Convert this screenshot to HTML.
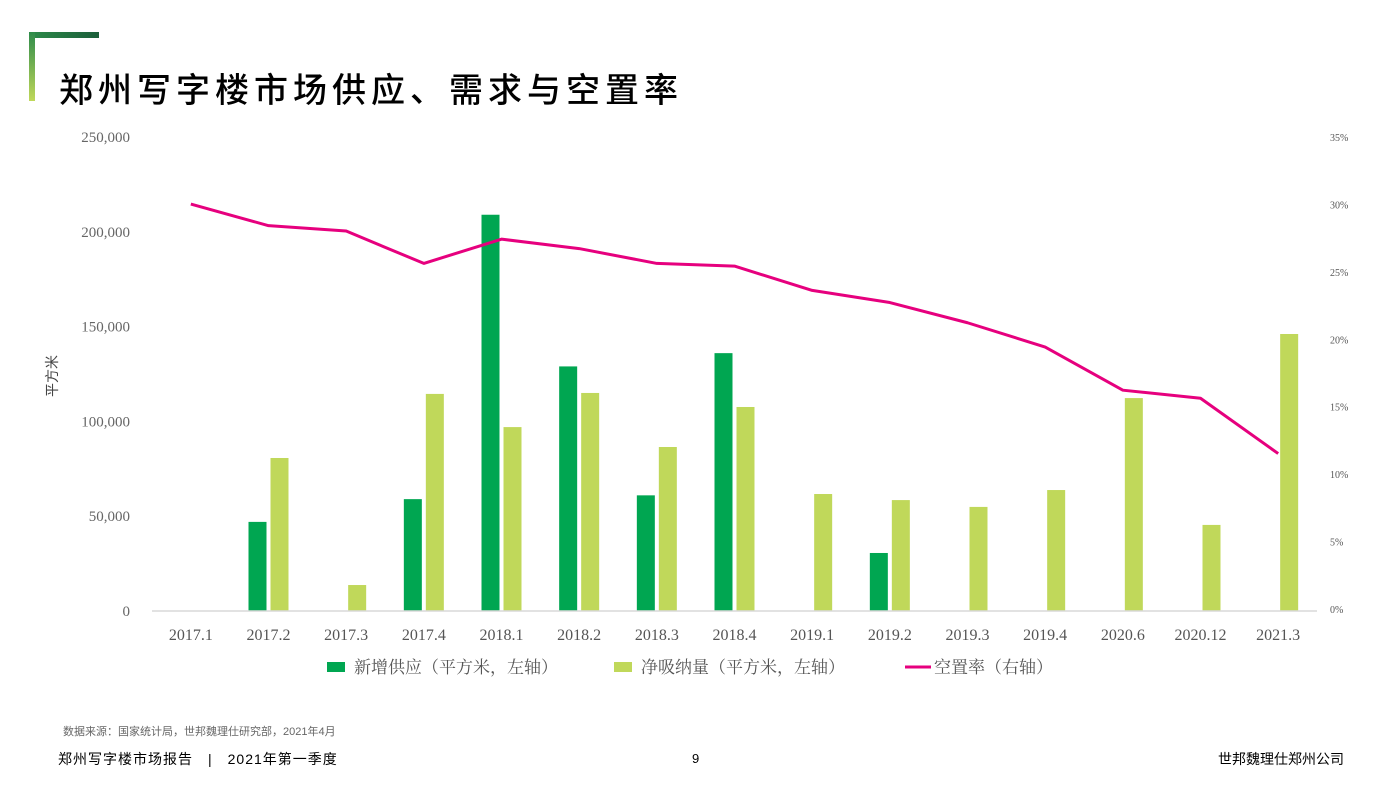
<!DOCTYPE html>
<html><head><meta charset="utf-8">
<style>
body{margin:0;width:1397px;height:791px;background:#fff;position:relative;overflow:hidden;font-family:"Liberation Sans","Noto Sans CJK SC",sans-serif;}
.abs{position:absolute;}
</style></head>
<body>
<div class="abs" style="left:29px;top:32px;width:70px;height:6px;background:linear-gradient(90deg,#2e8b4a,#1b5e3a);"></div>
<div class="abs" style="left:29px;top:32px;width:6px;height:69px;background:linear-gradient(180deg,#2e8b4a,#c0d85a);"></div>
<div class="abs" style="left:59px;top:66px;font-size:34px;letter-spacing:5px;color:#000;font-family:'Noto Sans CJK SC',sans-serif;font-weight:500;line-height:44px;">郑州写字楼市场供应、需求与空置率</div>
<svg class="abs" style="left:0;top:0" width="1397" height="791" id="chart"></svg>
<div class="abs" style="left:63px;top:723px;font-size:11px;color:#666;">数据来源：国家统计局，世邦魏理仕研究部，2021年4月</div>
<div class="abs" style="left:58px;top:749px;font-size:14px;color:#000;letter-spacing:1px;">郑州写字楼市场报告　|　2021年第一季度</div>
<div class="abs" style="left:692px;top:751px;font-size:13px;color:#000;">9</div>
<div class="abs" style="left:1218px;top:749px;font-size:14px;color:#000;">世邦魏理仕郑州公司</div>
<script>
const categories=["2017.1","2017.2","2017.3","2017.4","2018.1","2018.2","2018.3","2018.4","2019.1","2019.2","2019.3","2019.4","2020.6","2020.12","2021.3"];
const supply=[0,47000,0,59000,209000,129000,61000,136000,0,30600,0,0,0,0,0];
const absorption=[0,80700,13700,114500,97000,115000,86500,107600,61700,58500,54900,63800,112300,45400,146100];
const vacancy=[30.1,28.5,28.1,25.7,27.5,26.8,25.7,25.5,23.7,22.8,21.3,19.5,16.3,15.7,11.6];
const leftTicks=[0,50000,100000,150000,200000,250000];
const leftTickLabels=["0","50,000","100,000","150,000","200,000","250,000"];
const rightTicks=[0,5,10,15,20,25,30,35];
const rightTickLabels=["0%","5%","10%","15%","20%","25%","30%","35%"];

const svg=document.getElementById('chart');
const NS='http://www.w3.org/2000/svg';
const X0=152,X1=1317,Y0=611,Y1=137;
const band=(X1-X0)/categories.length;
const xc=i=>X0+(i+0.5)*band;
const yL=v=>Y0-(v/250000)*(Y0-Y1);
const yR=v=>610-(v/35)*(610-138);
function mk(t,a){const e=document.createElementNS(NS,t);for(const k in a)e.setAttribute(k,a[k]);svg.appendChild(e);return e;}

leftTicks.forEach((v,i)=>{const t=mk('text',{x:130,y:yL(v)+5,'text-anchor':'end','font-size':15,fill:'#666','font-family':'Liberation Serif,serif'});t.textContent=leftTickLabels[i];

});
rightTicks.forEach((v,i)=>{const t=mk('text',{x:1330,y:yR(v)+3,'font-size':10,fill:'#555','font-family':'Liberation Serif,serif'});t.textContent=rightTickLabels[i];

});
const yt=mk('text',{x:57,y:376,'font-size':14,fill:'#444',transform:'rotate(-90 57 376)','text-anchor':'middle','font-family':'Noto Sans CJK SC,sans-serif'});yt.textContent='平方米';



categories.forEach((c,i)=>{
 if(supply[i]>0){const r=mk('rect',{x:xc(i)-20,y:yL(supply[i]),width:18,height:Y0-yL(supply[i]),fill:'#00a651'});
 
 }
 if(absorption[i]>0){const r=mk('rect',{x:xc(i)+2,y:yL(absorption[i]),width:18,height:Y0-yL(absorption[i]),fill:'#c0d85a'});
 
 }
 const t=mk('text',{x:xc(i),y:640,'text-anchor':'middle','font-size':16,fill:'#555','font-family':'Liberation Serif,serif'});t.textContent=c;
 
 
});
const ax=mk('line',{x1:X0,y1:Y0,x2:X1,y2:Y0,stroke:'#d9d9d9','stroke-width':1.5});


const pl=mk('polyline',{points:vacancy.map((v,i)=>xc(i)+','+yR(v)).join(' '),fill:'none',stroke:'#e6007e','stroke-width':3,'stroke-linejoin':'round'});



const leg=[{x:327,c:'#00a651',t:'新增供应（平方米，左轴）',l:false},{x:614,c:'#c0d85a',t:'净吸纳量（平方米，左轴）',l:false},{x:905,c:'#e6007e',t:'空置率（右轴）',l:true}];
leg.forEach(d=>{
 const g=mk('g',{});
 
 
 const s=d.l?document.createElementNS(NS,'line'):document.createElementNS(NS,'rect');
 if(d.l){s.setAttribute('x1',d.x);s.setAttribute('x2',d.x+26);s.setAttribute('y1',667);s.setAttribute('y2',667);s.setAttribute('stroke',d.c);s.setAttribute('stroke-width',3);}
 else{s.setAttribute('x',d.x);s.setAttribute('y',662);s.setAttribute('width',18);s.setAttribute('height',10);s.setAttribute('fill',d.c);}
 g.appendChild(s);
 const t=document.createElementNS(NS,'text');t.setAttribute('x',d.x+(d.l?29:27));t.setAttribute('y',673);t.setAttribute('font-size',17);t.setAttribute('fill','#555');t.setAttribute('font-family','Noto Serif CJK SC,serif');t.textContent=d.t;g.appendChild(t);
});
</script>
</body></html>
